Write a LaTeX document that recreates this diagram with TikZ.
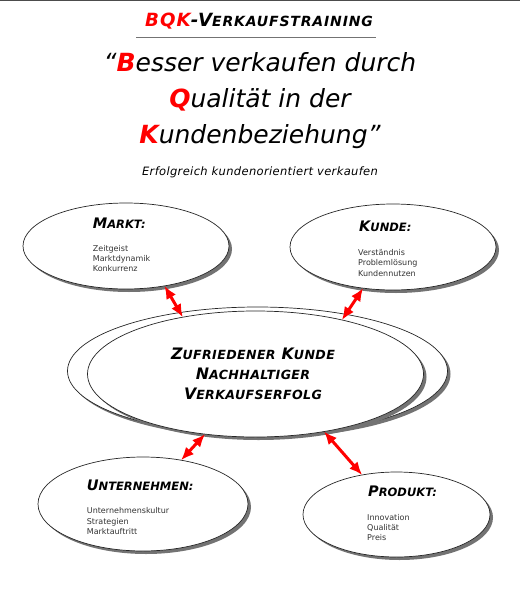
\documentclass[tikz,border=0pt]{standalone}
\usepackage{fontspec}
\setmainfont{DejaVu Sans}
\usetikzlibrary{shapes.geometric,shadows,arrows.meta}
% fake small caps: big initial, smaller rest
\newcommand\bigsc[2]{{\fontsize{14.5}{20}\selectfont #1}{\fontsize{11.5}{20}\selectfont #2}}
\newcommand\midsc[2]{{\fontsize{15.8}{20}\selectfont #1}{\fontsize{12.6}{20}\selectfont #2}}
\newcommand\redini[1]{{\color{red}\bfseries #1}}
\begin{document}
\begin{tikzpicture}[x=1pt, y=-1pt,
    bubble/.style = {ellipse, draw=black!85, line width=0.7pt, fill=white, inner sep=0pt, outer sep=0pt,
      drop shadow={shadow xshift=3pt, shadow yshift=-3pt, fill=black!55, opacity=1}},
    head/.style = {anchor=base west, inner sep=0pt, font=\bfseries\itshape},
    items/.style = {anchor=base west, inner sep=0pt, align=left, text=black!80, font=\fontsize{8}{10.3}\selectfont},
    quote/.style = {anchor=base, inner sep=0pt, font=\itshape\fontsize{25}{30}\selectfont},
    link/.style = {red, line width=3pt, {Latex[length=13pt,width=11pt]}-{Latex[length=13pt,width=11pt]}}]
  \useasboundingbox (0,0) rectangle (520,591);
  \draw[black!70, line width=1.5pt] (0,0.75) -- (520,0.75);

  % title
  \node (title) [anchor=base, inner sep=0pt, font=\bfseries\itshape\addfontfeature{LetterSpace=6}] at (259,27)
    {{\color{red}\fontsize{18.2}{20}\selectfont BQK}{\fontsize{18.2}{20}\selectfont -V}{\fontsize{14}{20}\selectfont ERKAUFSTRAINING}};
  \draw[black!55, line width=0.9pt] (136,37) -- (376,37);
  \node[quote] (q1) at (260,71.7) {“\redini{B}esser verkaufen durch};
  \node[quote] (q2) at (260,108) {\redini{Q}ualität in der};
  \node[quote] (q3) at (260,143) {\redini{K}undenbeziehung”};
  \node (sub) [anchor=base, inner sep=0pt, font=\itshape\fontsize{11.5}{12}\selectfont\addfontfeature{LetterSpace=3}] at (260,175)
    {Erfolgreich kundenorientiert verkaufen};

  % ellipses
  \node[bubble, minimum width=206, minimum height=86] (mk) at (126,246) {};
  \node[bubble, minimum width=206, minimum height=86] (kd) at (393,247) {};
  \node[bubble, minimum width=380, minimum height=128] (zkback) at (257.5,371) {};
  \node[bubble, minimum width=336, minimum height=126] (zk) at (255.5,374) {};
  \node[bubble, minimum width=210, minimum height=94] (un) at (143,504) {};
  \node[bubble, minimum width=187, minimum height=85] (pr) at (396.5,514.5) {};

  % texts (items: base = last line)
  \node[head] (mkhead) at (92.7,228.3) {\bigsc{M}{ARKT:}};
  \node[items] (mkitems) at (92.7,271.7) {Zeitgeist\\Marktdynamik\\Konkurrenz};
  \node[head] (kdhead) at (359,231) {\bigsc{K}{UNDE:}};
  \node[items] (kditems) at (358,276) {Verständnis\\Problemlösung\\Kundennutzen};
  \node[head] (unhead) at (86.7,490) {\bigsc{U}{NTERNEHMEN:}};
  \node[items] (unitems) at (86.7,534.3) {Unternehmenskultur\\Strategien\\Marktauftritt};
  \node[head] (prhead) at (368,496.7) {\bigsc{P}{RODUKT:}};
  \node[items] (pritems) at (367,540.7) {Innovation\\Qualität\\Preis};
  \node (zktext) [align=center, inner sep=0pt, font=\bfseries\itshape\fontsize{15.8}{20}\selectfont\addfontfeature{LetterSpace=3}] at (253,373.7)
    {\midsc{Z}{UFRIEDENER} \midsc{K}{UNDE}\\\midsc{N}{ACHHALTIGER}\\\midsc{V}{ERKAUFSERFOLG}};

  % arrows
  \draw[link] (mk.-46.5) -- (zk.142);
  \draw[link] (kd.-126) -- (zk.32);
  \draw[link] (zk.-130) -- (un.49.5);
  \draw[link] (zk.-40) -- (pr.131);
\end{tikzpicture}
\end{document}
